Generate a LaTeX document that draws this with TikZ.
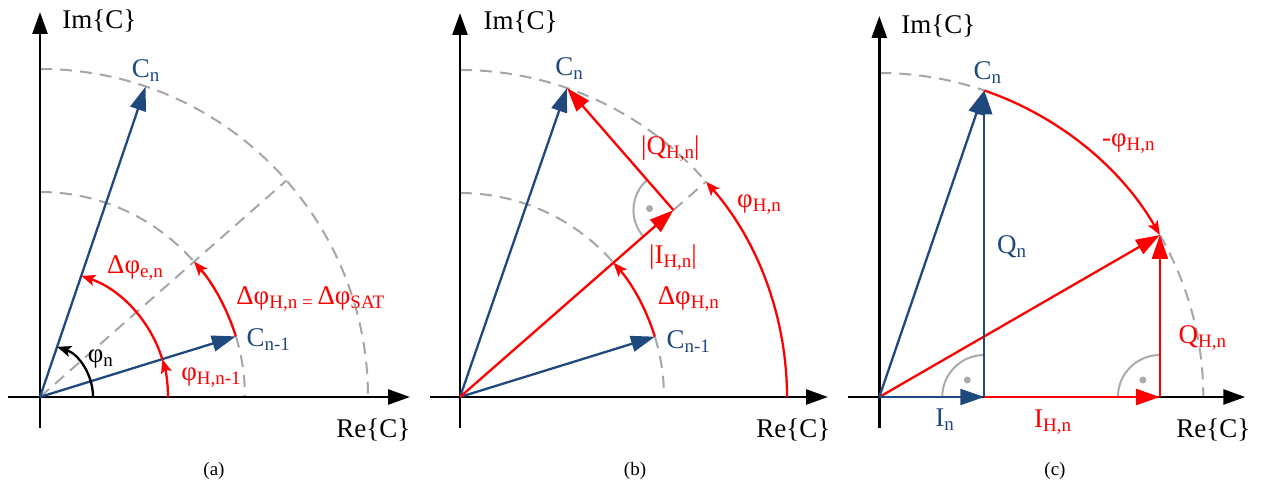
\documentclass[tikz,border=0pt]{standalone}
\usepackage{fontspec}
\setmainfont{Liberation Serif}
\usetikzlibrary{arrows.meta}
\definecolor{vblue}{RGB}{31,73,125}
\definecolor{dgray}{RGB}{166,166,166}
\definecolor{rgray}{RGB}{170,170,170}
\newcommand\sbb[1]{\raisebox{-4pt}{\fontsize{19}{19}\selectfont #1}}
\begin{document}
\begin{tikzpicture}[x=1pt,y=1pt,
  axis/.style={black, line width=2.6pt, -{Triangle[length=22pt,width=15pt]}},
  vecB/.style={vblue, line width=2.3pt, -{Triangle[length=24pt,width=16pt]}},
  vecR/.style={red, line width=2.3pt, -{Triangle[length=24pt,width=16pt]}},
  angR/.style={red, line width=2.3pt, -{Stealth[length=14pt,width=11pt,inset=3pt]}},
  angK/.style={black, line width=2.3pt, -{Stealth[length=14pt,width=11pt,inset=3pt]}},
  guide/.style={dgray, line width=2pt, dash pattern=on 12pt off 8pt},
  rmark/.style={rgray, line width=2pt},
  lab/.style={font=\fontsize{27}{27}\selectfont, inner sep=0pt, anchor=base},
  captxt/.style={font=\fontsize{19}{19}\selectfont, inner sep=0pt, anchor=base}]
\useasboundingbox (0,0) rectangle (1261,485);

% ---------------- panel (a)
\begin{scope}[shift={(40,88)}]
\coordinate (Oa) at (0,0);
\coordinate (Da) at (41.3:328);
\coordinate (Cna) at (71.2:328);
\coordinate (Cpa) at (17.2:205);
\coordinate (ya0) at (0,-31); \coordinate (ya1) at (0,385);
\coordinate (xa0) at (-32,0); \coordinate (xa1) at (370,0);
\draw[guide] (90:205) arc[start angle=90,end angle=0,radius=205];
\draw[guide] (90:328) arc[start angle=90,end angle=0,radius=328];
\draw[guide] (Oa) -- (Da);
\draw[axis] (ya0) -- (ya1);
\draw[axis] (xa0) -- (xa1);
\draw[vecB] (Oa) -- (Cna);
\draw[vecB] (Oa) -- (Cpa);
\draw[angK] (0:53) arc[start angle=0,end angle=71.2,radius=53];
\draw[angR] (0:128) arc[start angle=0,end angle=17.2,radius=128];
\draw[angR] (17.2:128) arc[start angle=17.2,end angle=71.2,radius=128];
\draw[angR] (Cpa) arc[start angle=17.2,end angle=41.3,radius=205];
\node[lab] (ima) at (59.3,368.7) {Im\{C\}};
\node[lab] (rea) at (333.3,-40.3) {Re\{C\}};
\node[captxt] (capa) at (174,-78) {(a)};
\node[lab, vblue] (lcna) at (105.7,319.7) {C\sbb{n}};
\node[lab, vblue] (lcpa) at (228.3,50.3) {C\sbb{n-1}};
\node[lab, red] (lea) at (95,123) {Δφ\sbb{e,n}};
\node[lab, red] (lsat) at (270.3,92) {Δφ\sbb{H,n = }Δφ\sbb{SAT}};
\node[lab] (lpn) at (60.3,35) {φ\sbb{n}};
\node[lab, red] (lhp) at (171,17) {φ\sbb{H,n-1}};
\end{scope}

% ---------------- panel (b)
\begin{scope}[shift={(460,88)}]
\coordinate (Ob) at (0,0);
\coordinate (Ib) at (41.2:283.7);
\coordinate (Db) at (41.2:327);
\coordinate (Cnb) at (70.9:327);
\coordinate (Cpb) at (17.2:204);
\coordinate (yb0) at (0,-31); \coordinate (yb1) at (0,384);
\coordinate (xb0) at (-30,0); \coordinate (xb1) at (368,0);
\draw[guide] (90:327) arc[start angle=90,end angle=41.2,radius=327];
\draw[guide] (90:204) arc[start angle=90,end angle=41.2,radius=204];
\draw[guide] (17.2:204) arc[start angle=17.2,end angle=0,radius=204];
\draw[guide] (Ib) -- (Db);
\draw[rmark] (Ib) ++(131.2:40) arc[start angle=131.2,end angle=221.2,radius=40];
\fill[rgray] (Ib) ++(176.2:24) circle[radius=3.5];
\draw[axis] (yb0) -- (yb1);
\draw[axis] (xb0) -- (xb1);
\draw[vecB] (Ob) -- (Cnb);
\draw[vecB] (Ob) -- (Cpb);
\draw[vecR] (Ob) -- (Ib);
\draw[vecR] (Ib) -- (Cnb);
\draw[angR] (Cpb) arc[start angle=17.2,end angle=41.2,radius=204];
\draw[angR] (0:327) arc[start angle=0,end angle=41.2,radius=327];
\node[lab] (imb) at (60.7,367) {Im\{C\}};
\node[lab] (reb) at (333.3,-40.3) {Re\{C\}};
\node[captxt] (capb) at (175,-78) {(b)};
\node[lab, vblue] (lcnb) at (109,321) {C\sbb{n}};
\node[lab, vblue] (lcpb) at (228.3,48.7) {C\sbb{n-1}};
\node[lab, red] (lqb) at (210.3,242) {|Q\sbb{H,n}|};
\node[lab, red] (lphb) at (299,189) {φ\sbb{H,n}};
\node[lab, red] (lib) at (213,133.7) {|I\sbb{H,n}|};
\node[lab, red] (ldb) at (228.3,92) {Δφ\sbb{H,n}};
\end{scope}

% ---------------- panel (c)
\begin{scope}[shift={(879.3,88)}]
\coordinate (Oc) at (0,0);
\coordinate (Cnc) at (71.1:324);
\coordinate (Hc) at (30:324);
\coordinate (Inc) at (Cnc |- Oc);
\coordinate (Ihc) at (Hc |- Oc);
\coordinate (yc0) at (0,-31); \coordinate (yc1) at (0,381);
\coordinate (xc0) at (-31,0); \coordinate (xc1) at (366,0);
\draw[guide] (90:324) arc[start angle=90,end angle=71.1,radius=324];
\draw[guide] (30:324) arc[start angle=30,end angle=0,radius=324];
\draw[rmark] (Inc) ++(90:42) arc[start angle=90,end angle=180,radius=42];
\fill[rgray] (Inc) ++(135:24) circle[radius=3.5];
\draw[rmark] (Ihc) ++(90:42) arc[start angle=90,end angle=180,radius=42];
\fill[rgray] (Ihc) ++(135:24) circle[radius=3.5];
\draw[axis] (yc0) -- (yc1);
\draw[axis] (xc0) -- (xc1);
\draw[vecR] (Oc) -- (Hc);
\draw[vecR] (Inc) -- (Ihc);
\draw[vecR] (Ihc) -- (Hc);
\draw[vecB] (Oc) -- (Cnc);
\draw[vecB] (Oc) -- (Inc);
\draw[vecB] (Inc) -- (Cnc);
\draw[angR] (Cnc) arc[start angle=71.1,end angle=30,radius=324];
\node[lab] (imc) at (59,363.7) {Im\{C\}};
\node[lab] (rec) at (334,-40.3) {Re\{C\}};
\node[captxt] (capc) at (175.7,-78) {(c)};
\node[lab, vblue] (lcnc) at (108,317) {C\sbb{n}};
\node[lab, vblue] (lqnc) at (132.4,143.7) {Q\sbb{n}};
\node[lab, red] (lphc) at (249,250) {-φ\sbb{H,n}};
\node[lab, red] (lqhc) at (323,53.7) {Q\sbb{H,n}};
\node[lab, vblue] (linc) at (65.3,-29.7) {I\sbb{n}};
\node[lab, red] (lihc) at (173.3,-30.3) {I\sbb{H,n}};
\end{scope}
\end{tikzpicture}
\end{document}
